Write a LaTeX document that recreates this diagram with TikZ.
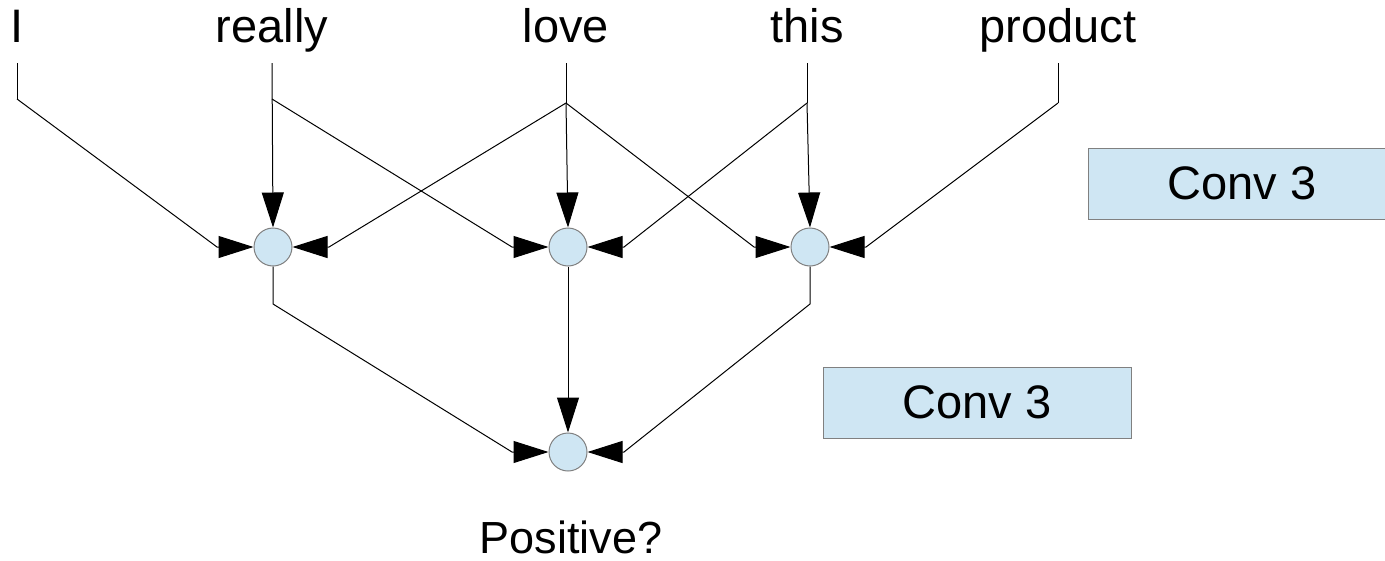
\documentclass[tikz,border=0pt]{standalone}
\usepackage{fontspec}
\setmainfont{Liberation Sans}
\usetikzlibrary{arrows.meta}
\definecolor{cellblue}{RGB}{207,230,243}
\definecolor{rimgray}{RGB}{128,128,128}
\begin{document}
\begin{tikzpicture}[x=1pt,y=-1pt,
  word/.style={anchor=base,inner sep=0pt,text depth=21pt,font=\fontsize{47}{56}\selectfont},
  unit/.style={circle,draw=rimgray,fill=cellblue,line width=1pt,minimum size=38pt,inner sep=0pt},
  layer/.style={rectangle,draw=rimgray,fill=cellblue,line width=1pt,minimum width=308pt,minimum height=71pt,inner sep=0pt,font=\fontsize{47}{56}\selectfont},
  wire/.style={draw=black,line width=1pt},
  feed/.style={wire,-{Triangle[length=35pt,width=22pt]}}]
\useasboundingbox (0,0) rectangle (1385,560);

% input words
\node[word] (wI) at (17,42) {I};
\node[word] (wR) at (272,42) {really};
\node[word] (wL) at (566,42) {love};
\node[word] (wT) at (807,42) {this};
\node[word] (wP) at (1058,42) {product};

% convolution units
\node[unit] (c1) at (273,247) {};
\node[unit] (c2) at (568,247) {};
\node[unit] (c3) at (810,247) {};
\node[unit] (c4) at (568,452) {};

% layer labels
\node[layer] (k1) at (1242,183.5) {Conv 3};
\node[layer] (k2) at (977,402.5) {Conv 3};

% output
\node[anchor=base,inner sep=0pt,font=\fontsize{45}{54}\selectfont] (out) at (571,553) {Positive?};

% branch points
\coordinate (jI) at (17,99);
\coordinate (jR) at (272,99);
\coordinate (jL) at (566,103);
\coordinate (jT) at (807,103);
\coordinate (jP) at (1058,103);
\coordinate (b1) at (273,304);
\coordinate (b3) at (810,304);

% first layer connections
\draw[wire] (wI.south) -- (jI);
\draw[feed] (jI) -- ([xshift=-56pt]c1.center) -- (c1.west);
\draw[feed] (wR.south) -- (c1.north);
\draw[feed] (jR) -- ([xshift=-56pt]c2.center) -- (c2.west);
\draw[wire] (wL.south) -- (jL);
\draw[feed] (jL) -- ([xshift=56pt]c1.center) -- (c1.east);
\draw[feed] (jL) -- (c2.north);
\draw[feed] (jL) -- ([xshift=-56pt]c3.center) -- (c3.west);
\draw[wire] (wT.south) -- (jT);
\draw[feed] (jT) -- ([xshift=56pt]c2.center) -- (c2.east);
\draw[feed] (jT) -- (c3.north);
\draw[wire] (wP.south) -- (jP);
\draw[feed] (jP) -- ([xshift=56pt]c3.center) -- (c3.east);

% second layer connections
\draw[feed] (c1.south) -- (b1) -- ([xshift=-56pt]c4.center) -- (c4.west);
\draw[feed] (c2.south) -- (c4.north);
\draw[feed] (c3.south) -- (b3) -- ([xshift=56pt]c4.center) -- (c4.east);
\end{tikzpicture}
\end{document}
